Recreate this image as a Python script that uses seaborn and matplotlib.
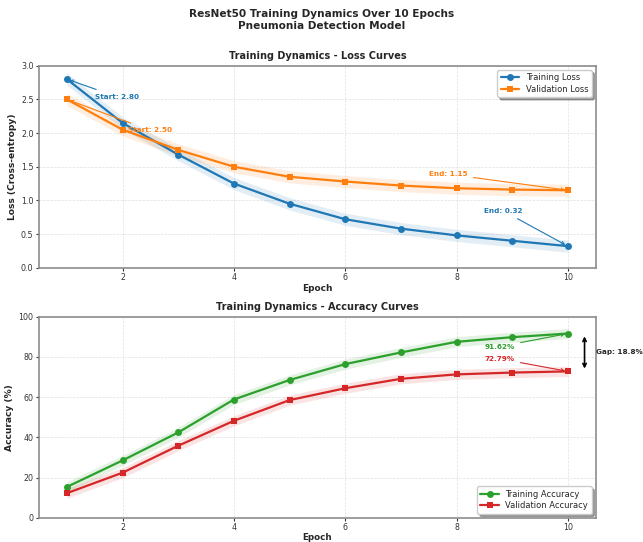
import numpy as np
import pandas as pd
import matplotlib
matplotlib.use("Agg")
import matplotlib.pyplot as plt
import seaborn as sns

epochs = [1, 2, 3, 4, 5, 6, 7, 8, 9, 10]
train_loss = [2.80, 2.15, 1.68, 1.25, 0.95, 0.72, 0.58, 0.48, 0.40, 0.32]
val_loss = [2.50, 2.05, 1.75, 1.50, 1.35, 1.28, 1.22, 1.18, 1.16, 1.15]
train_acc = [15.3, 28.5, 42.4, 58.8, 68.5, 76.4, 82.2, 87.5, 89.8, 91.62]
val_acc = [12.2, 22.4, 35.8, 48.2, 58.5, 64.4, 69.1, 71.3, 72.2, 72.79]
loss_band = 0.09
acc_band = 2.5

C_TL, C_VL, C_TA, C_VA = "#1f77b4", "#ff7f0e", "#2ca02c", "#d62728"

sns.set_theme(style="whitegrid")
plt.rcParams["font.family"] = ["DejaVu Sans"]

fig = plt.figure(figsize=(6.43, 5.42), dpi=100)
fig.patch.set_facecolor("white")
ax1 = fig.add_axes([0.0607, 0.5061, 0.8657, 0.3727])
ax2 = fig.add_axes([0.0607, 0.0448, 0.8657, 0.3709])

fig.suptitle("ResNet50 Training Dynamics Over 10 Epochs\nPneumonia Detection Model",
             fontsize=7.6, fontweight="bold", y=0.983, linespacing=1.2)

df_loss = pd.DataFrame({"Epoch": epochs, "train": train_loss, "val": val_loss})
df_acc = pd.DataFrame({"Epoch": epochs, "train": train_acc, "val": val_acc})


def style_ax(ax):
    ax.set_facecolor("white")
    for s in ax.spines.values():
        s.set_color("#8c8c8c")
        s.set_linewidth(1.2)
    ax.grid(True, linestyle="--", color="#d9d9d9", linewidth=0.5, alpha=0.8)
    ax.tick_params(axis="both", labelsize=5.7, colors="#333333", length=2.5,
                   width=0.8, pad=1.5, bottom=True, left=True)
    ax.set_xlim(0.5, 10.5)
    ax.set_xticks([2, 4, 6, 8, 10])


# Loss
ax1.fill_between(epochs, np.array(train_loss) - loss_band, np.array(train_loss) + loss_band,
                 color=C_TL, alpha=0.13, linewidth=0)
ax1.fill_between(epochs, np.array(val_loss) - loss_band, np.array(val_loss) + loss_band,
                 color=C_VL, alpha=0.13, linewidth=0)
sns.lineplot(data=df_loss, x="Epoch", y="train", ax=ax1, color=C_TL, marker="o",
             markersize=5, linewidth=1.6, markeredgewidth=0, label="Training Loss")
sns.lineplot(data=df_loss, x="Epoch", y="val", ax=ax1, color=C_VL, marker="s",
             markersize=5, linewidth=1.6, markeredgewidth=0, label="Validation Loss")
style_ax(ax1)
ax1.set_ylim(0, 3.0)
ax1.set_yticks([0.0, 0.5, 1.0, 1.5, 2.0, 2.5, 3.0])
ax1.set_title("Training Dynamics - Loss Curves", fontsize=7.0, fontweight="bold", pad=5)
ax1.set_xlabel("Epoch", fontsize=6.5, fontweight="bold", labelpad=1.5)
ax1.set_ylabel("Loss (Cross-entropy)", fontsize=6.6, fontweight="bold", labelpad=3)
leg = ax1.legend(loc="upper right", fontsize=6.0, frameon=True, fancybox=True, shadow=True,
                 borderpad=0.4, handlelength=2.2, labelspacing=0.3)
leg.get_frame().set_edgecolor("#cccccc")

ann = dict(fontsize=5.2, fontweight="bold", va="center", ha="left")
ax1.annotate(f"Start: {train_loss[0]:.2f}", xy=(epochs[0], train_loss[0]), xytext=(1.5, 2.54),
             color=C_TL, arrowprops=dict(arrowstyle="->", color=C_TL, lw=0.8), **ann)
ax1.annotate(f"Start: {val_loss[0]:.2f}", xy=(epochs[0], val_loss[0]), xytext=(2.1, 2.04),
             color=C_VL, arrowprops=dict(arrowstyle="->", color=C_VL, lw=0.8), **ann)
ax1.annotate(f"End: {val_loss[-1]:.2f}", xy=(epochs[-1], val_loss[-1]), xytext=(7.5, 1.39),
             color=C_VL, arrowprops=dict(arrowstyle="->", color=C_VL, lw=0.8), **ann)
ax1.annotate(f"End: {train_loss[-1]:.2f}", xy=(epochs[-1], train_loss[-1]), xytext=(8.5, 0.84),
             color=C_TL, arrowprops=dict(arrowstyle="->", color=C_TL, lw=0.8), **ann)

# Accuracy
ax2.fill_between(epochs, np.array(train_acc) - acc_band, np.array(train_acc) + acc_band,
                 color=C_TA, alpha=0.13, linewidth=0)
ax2.fill_between(epochs, np.array(val_acc) - acc_band, np.array(val_acc) + acc_band,
                 color=C_VA, alpha=0.13, linewidth=0)
sns.lineplot(data=df_acc, x="Epoch", y="train", ax=ax2, color=C_TA, marker="o",
             markersize=5, linewidth=1.6, markeredgewidth=0, label="Training Accuracy")
sns.lineplot(data=df_acc, x="Epoch", y="val", ax=ax2, color=C_VA, marker="s",
             markersize=5, linewidth=1.6, markeredgewidth=0, label="Validation Accuracy")
style_ax(ax2)
ax2.set_ylim(0, 100)
ax2.set_yticks([0, 20, 40, 60, 80, 100])
ax2.set_title("Training Dynamics - Accuracy Curves", fontsize=7.0, fontweight="bold", pad=5)
ax2.set_xlabel("Epoch", fontsize=6.3, fontweight="bold", labelpad=0.5)
ax2.set_ylabel("Accuracy (%)", fontsize=6.6, fontweight="bold", labelpad=3)
leg2 = ax2.legend(loc="lower right", fontsize=6.0, frameon=True, fancybox=True, shadow=True,
                  borderpad=0.4, handlelength=2.2, labelspacing=0.3)
leg2.get_frame().set_edgecolor("#cccccc")

ax2.annotate(f"{train_acc[-1]:.2f}%", xy=(epochs[-1], train_acc[-1]), xytext=(8.5, 85.1),
             color=C_TA, arrowprops=dict(arrowstyle="->", color=C_TA, lw=0.8), **ann)
ax2.annotate(f"{val_acc[-1]:.2f}%", xy=(epochs[-1], val_acc[-1]), xytext=(8.5, 79.1),
             color=C_VA, arrowprops=dict(arrowstyle="->", color=C_VA, lw=0.8), **ann)
gap = train_acc[-1] - val_acc[-1]
ax2.annotate("", xy=(10.3, train_acc[-1]), xytext=(10.3, val_acc[-1]),
             arrowprops=dict(arrowstyle="<->", color="black", lw=1.2,
                             mutation_scale=6), annotation_clip=False)
ax2.text(10.5, (train_acc[-1] + val_acc[-1]) / 2, f"Gap: {gap:.1f}%", fontsize=5.2,
         fontweight="bold", va="center", ha="left", clip_on=False)

fig.savefig("out.png", dpi=100)
